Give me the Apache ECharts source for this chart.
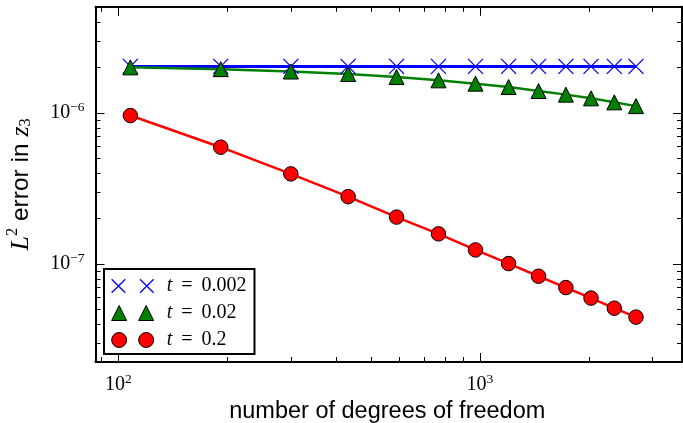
<!DOCTYPE html>
<html>
<head>
<meta charset="utf-8">
<script src="https://cdn.jsdelivr.net/npm/echarts@6/dist/echarts.min.js"></script>
<style>
html, body { margin: 0; padding: 0; background: #fff; }
#chart { width: 683px; height: 423px; }
</style>
</head>
<body>
<div id="chart"></div>
<script>
// number of degrees of freedom
var dofs = [108, 192, 300, 432, 588, 768, 972, 1200, 1452, 1728, 2028, 2352, 2700];
// L2 error in z3, one list per time
var errT0002 = [2.04e-6, 2.04e-6, 2.04e-6, 2.04e-6, 2.04e-6, 2.04e-6, 2.04e-6, 2.04e-6, 2.04e-6, 2.04e-6, 2.04e-6, 2.04e-6, 2.04e-6];
var errT002 = [2.01e-6, 1.956e-6, 1.886e-6, 1.815e-6, 1.734e-6, 1.649e-6, 1.568e-6, 1.489e-6, 1.401e-6, 1.326e-6, 1.253e-6, 1.179e-6, 1.113e-6];
var errT02 = [9.64e-7, 5.95e-7, 3.96e-7, 2.80e-7, 2.05e-7, 1.587e-7, 1.243e-7, 1.009e-7, 8.32e-8, 7.0e-8, 5.96e-8, 5.11e-8, 4.46e-8];
var seriesNames = ['t = 0.002', 't = 0.02', 't = 0.2'];
// ticks
var xMajorTicks = [100, 1000];
var xMinorTicks = [90, 200, 300, 400, 500, 600, 700, 800, 900, 2000, 3000];
var yMajorTicks = [1e-7, 1e-6];
var yMinorTicks = [3e-8, 4e-8, 5e-8, 6e-8, 7e-8, 8e-8, 9e-8, 2e-7, 3e-7, 4e-7, 5e-7, 6e-7, 7e-7, 8e-7, 9e-7, 2e-6, 3e-6, 4e-6, 5e-6];

var chart = echarts.init(document.getElementById('chart'));

var pairs = function (xs, ys) {
	var out = [];
	for (var i = 0; i < xs.length; i++) {
		out.push([xs[i], ys[i]]);
	}
	return out;
};

// 10^n
var powLabel = function (v) {
	var e = Math.round(Math.log10(v));
	return '{b|10}{s|' + (e < 0 ? '\u2212' + (-e) : e) + '}';
};

var serif = 'Liberation Serif';
var sans = 'Liberation Sans';
var labelRich = {
	b: { fontFamily: serif, fontSize: 20, color: '#000' },
	s: { fontFamily: serif, fontSize: 13.5, color: '#000', padding: [0, 0, 12, 0] }
};

var xMin = 86.5, xMax = 3619;
var yMin = 2.25e-8, yMax = 5.06e-6;

// log axis with ticks at given values only, pointing inwards
var logAxis = function (opts, ticks, len, lineOn) {
	var base = {
		type: 'log',
		logBase: 10,
		axisLine: { show: lineOn, onZero: false, lineStyle: { color: '#000', width: 2 } },
		axisTick: { show: true, inside: true, length: len, customValues: ticks, lineStyle: { color: '#000', width: 1 } },
		minorTick: { show: false },
		splitLine: { show: false },
		minorSplitLine: { show: false },
		axisLabel: { show: false }
	};
	for (var k in opts) {
		base[k] = opts[k];
	}
	return base;
};

var gridBox = { left: 95.5, top: 6.8, right: 1, bottom: 61, containLabel: false, outerBoundsMode: 'none' };

var xPath = 'path://M1 1L14 14M14 1L1 14M28 1L41 14M41 1L28 14';
var triPath = 'path://M7.5 0L15 15L0 15ZM34.5 0L42 15L27 15Z';
var circPath = 'path://M0 7.5A7.5 7.5 0 1 1 15 7.5A7.5 7.5 0 1 1 0 7.5ZM27 7.5A7.5 7.5 0 1 1 42 7.5A7.5 7.5 0 1 1 27 7.5Z';

chart.setOption({
	backgroundColor: '#fff',
	animation: false,
	grid: [gridBox, gridBox],
	xAxis: [
		logAxis({
			min: xMin, max: xMax, position: 'bottom', gridIndex: 0,
			axisLabel: { show: true, margin: 10, customValues: xMajorTicks, formatter: powLabel, rich: labelRich },
			name: 'number of degrees of freedom',
			nameLocation: 'middle',
			nameGap: 38,
			nameTextStyle: { fontFamily: sans, fontSize: 23.5, color: '#000', padding: [0, 3, 0, 0] }
		}, xMajorTicks, 9, true),
		logAxis({ min: xMin, max: xMax, position: 'top', gridIndex: 0 }, xMajorTicks, 9, true),
		// minor ticks
		logAxis({ min: xMin, max: xMax, position: 'bottom', gridIndex: 1 }, xMinorTicks, 5, false),
		logAxis({ min: xMin, max: xMax, position: 'top', gridIndex: 1 }, xMinorTicks, 5, false)
	],
	yAxis: [
		logAxis({
			min: yMin, max: yMax, position: 'left', gridIndex: 0,
			axisLabel: { show: true, margin: 11, customValues: yMajorTicks, formatter: powLabel, rich: labelRich },
			name: '{it|L}{sup|2} error in {it|z}{sub|3}',
			nameLocation: 'middle',
			nameRotate: 90,
			nameGap: 58,
			nameTextStyle: {
				fontFamily: sans, fontSize: 24.5, color: '#000',
				rich: {
					it: { fontFamily: serif, fontStyle: 'italic', fontSize: 26, color: '#000' },
					sup: { fontFamily: serif, fontSize: 16.5, color: '#000', padding: [0, 0, 16, 0] },
					sub: { fontFamily: serif, fontSize: 16.5, color: '#000', padding: [9, 0, 0, 0] }
				}
			}
		}, yMajorTicks, 9, true),
		logAxis({ min: yMin, max: yMax, position: 'right', gridIndex: 0 }, yMajorTicks, 9, true),
		logAxis({ min: yMin, max: yMax, position: 'left', gridIndex: 1 }, yMinorTicks, 5, false),
		logAxis({ min: yMin, max: yMax, position: 'right', gridIndex: 1 }, yMinorTicks, 5, false)
	],
	legend: {
		orient: 'vertical',
		left: 104,
		top: 269,
		selectedMode: false,
		backgroundColor: '#fff',
		borderColor: '#000',
		borderWidth: 2,
		borderRadius: 0,
		padding: [7, 8, 4, 7],
		itemWidth: 42,
		itemHeight: 15,
		itemGap: 7,
		textStyle: {
			fontFamily: serif, fontSize: 20, color: '#000',
			rich: {
				it: { fontFamily: serif, fontStyle: 'italic', fontSize: 20, color: '#000', padding: [0, 0, 0, 8] },
				r: { fontFamily: serif, fontSize: 20, color: '#000' }
			}
		},
		formatter: function (name) {
			return '{it|t}{r| \u2009=\u2009 ' + name.split('= ')[1] + '}';
		},
		data: [
			{ name: seriesNames[0], icon: xPath, itemStyle: { color: 'rgba(0,0,0,0)', borderColor: '#0000ff', borderWidth: 1.3 } },
			{ name: seriesNames[1], icon: triPath, itemStyle: { color: '#008000', borderColor: '#000', borderWidth: 1 } },
			{ name: seriesNames[2], icon: circPath, itemStyle: { color: '#ff0000', borderColor: '#000', borderWidth: 1 } }
		]
	},
	series: [
		{
			name: seriesNames[0],
			type: 'line',
			data: pairs(dofs, errT0002),
			symbol: 'path://M0 0L10 10M10 0L0 10',
			symbolSize: 15,
			lineStyle: { color: '#0000ff', width: 3 },
			itemStyle: { color: 'rgba(0,0,0,0)', borderColor: '#0000ff', borderWidth: 1.3 }
		},
		{
			name: seriesNames[1],
			type: 'line',
			data: pairs(dofs, errT002),
			symbol: 'triangle',
			symbolSize: 15,
			lineStyle: { color: '#008000', width: 2.5 },
			itemStyle: { color: '#008000', borderColor: '#000', borderWidth: 1 }
		},
		{
			name: seriesNames[2],
			type: 'line',
			data: pairs(dofs, errT02),
			symbol: 'circle',
			symbolSize: 14.5,
			lineStyle: { color: '#ff0000', width: 2.5 },
			itemStyle: { color: '#ff0000', borderColor: '#000', borderWidth: 1 }
		}
	]
});
</script>
</body>
</html>
